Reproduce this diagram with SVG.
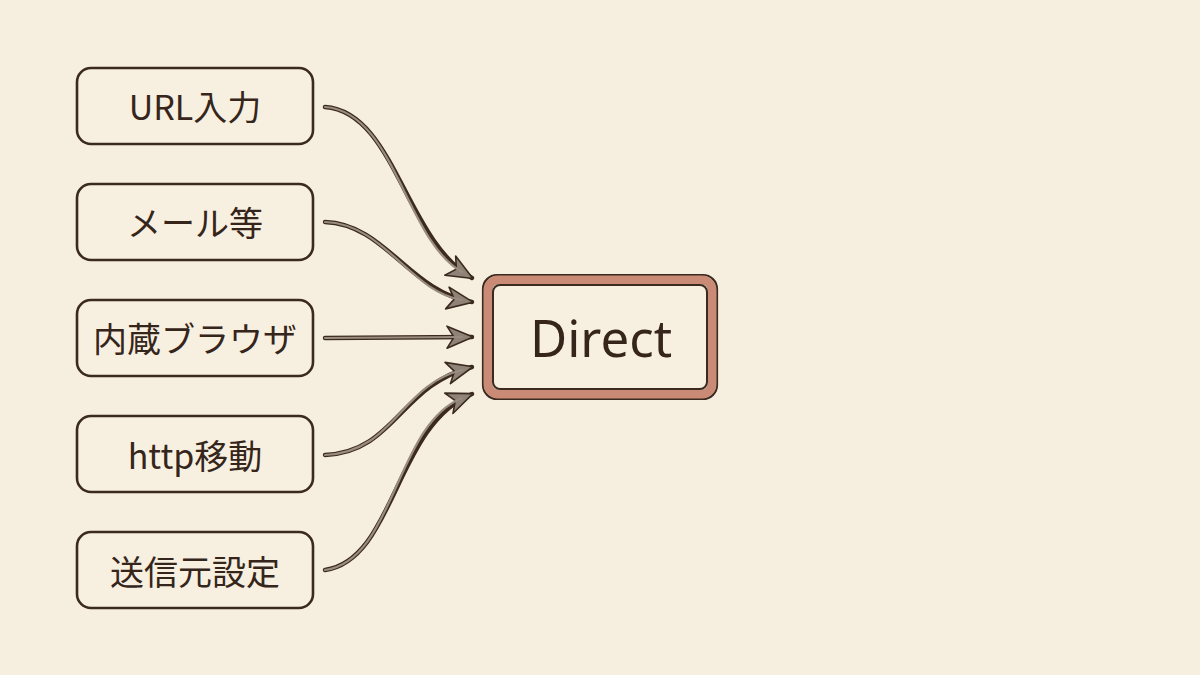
<svg xmlns="http://www.w3.org/2000/svg" width="1200" height="675" viewBox="0 0 1200 675">
<defs>
<style>
.box{fill:#f7f0e0;stroke:#3b2a20;stroke-width:2.6}
.lbl{font-family:"Noto Sans CJK JP","Noto Sans",sans-serif;font-size:34px;font-weight:400;fill:#35251b;text-anchor:middle}
.edge{fill:none;stroke:#3b2a20;stroke-width:4.4;stroke-linecap:round}
.edgein{fill:none;stroke:#9a8d80;stroke-width:2.2;stroke-linecap:round}
</style>
<marker id="ah" viewBox="0 0 28 24" refX="26" refY="12" markerWidth="28" markerHeight="24" markerUnits="userSpaceOnUse" orient="auto">
<path d="M1,1 L27,12 L1,23 L8,12 Z" fill="#8f8276" stroke="#3b2a20" stroke-width="1.6" stroke-linejoin="round"/>
</marker>
</defs>
<rect width="1200" height="675" fill="#f6efdf"/>
<g id="connectors">
<path class="edge" d="M325,107 C395,112 405,240 472,278" marker-end="url(#ah)"/>
<path class="edgein" d="M325,107 C395,112 405,240 462,272"/>
<path class="edge" d="M325,222 C385,224 410,292 472,302" marker-end="url(#ah)"/>
<path class="edgein" d="M325,222 C385,224 410,292 462,300"/>
<path class="edge" d="M325,338 L472,337" marker-end="url(#ah)"/>
<path class="edgein" d="M325,338 L462,337"/>
<path class="edge" d="M325,455 C395,452 400,385 472,367" marker-end="url(#ah)"/>
<path class="edgein" d="M325,455 C395,452 400,385 462,370"/>
<path class="edge" d="M325,570 C395,560 395,425 472,394" marker-end="url(#ah)"/>
<path class="edgein" d="M325,570 C395,560 395,425 462,398"/>
</g>
<g id="n1"><rect class="box" x="77" y="68" width="236" height="76" rx="14"/><text class="lbl" x="195" y="120">URL入力</text></g>
<g id="n2"><rect class="box" x="77" y="184" width="236" height="76" rx="14"/><text class="lbl" x="195" y="236">メール等</text></g>
<g id="n3"><rect class="box" x="77" y="300" width="236" height="76" rx="14"/><text class="lbl" x="195" y="352">内蔵ブラウザ</text></g>
<g id="n4"><rect class="box" x="77" y="416" width="236" height="76" rx="14"/><text class="lbl" x="195" y="469">http移動</text></g>
<g id="n5"><rect class="box" x="77" y="532" width="236" height="76" rx="14"/><text class="lbl" x="195" y="585">送信元設定</text></g>
<g id="direct">
<rect x="483" y="275" width="234" height="124" rx="14" fill="#f7f0e0" stroke="#3b2a20" stroke-width="2.2"/>
<rect x="488" y="280" width="224" height="114" rx="10" fill="none" stroke="#c98a76" stroke-width="9"/>
<rect x="493" y="285" width="214" height="104" rx="7" fill="none" stroke="#3b2a20" stroke-width="2"/>
<text x="601" y="357" style="font-family:'Noto Sans',sans-serif;font-size:51px;font-weight:400;fill:#35251b;text-anchor:middle">Direct</text>
</g>
</svg>
